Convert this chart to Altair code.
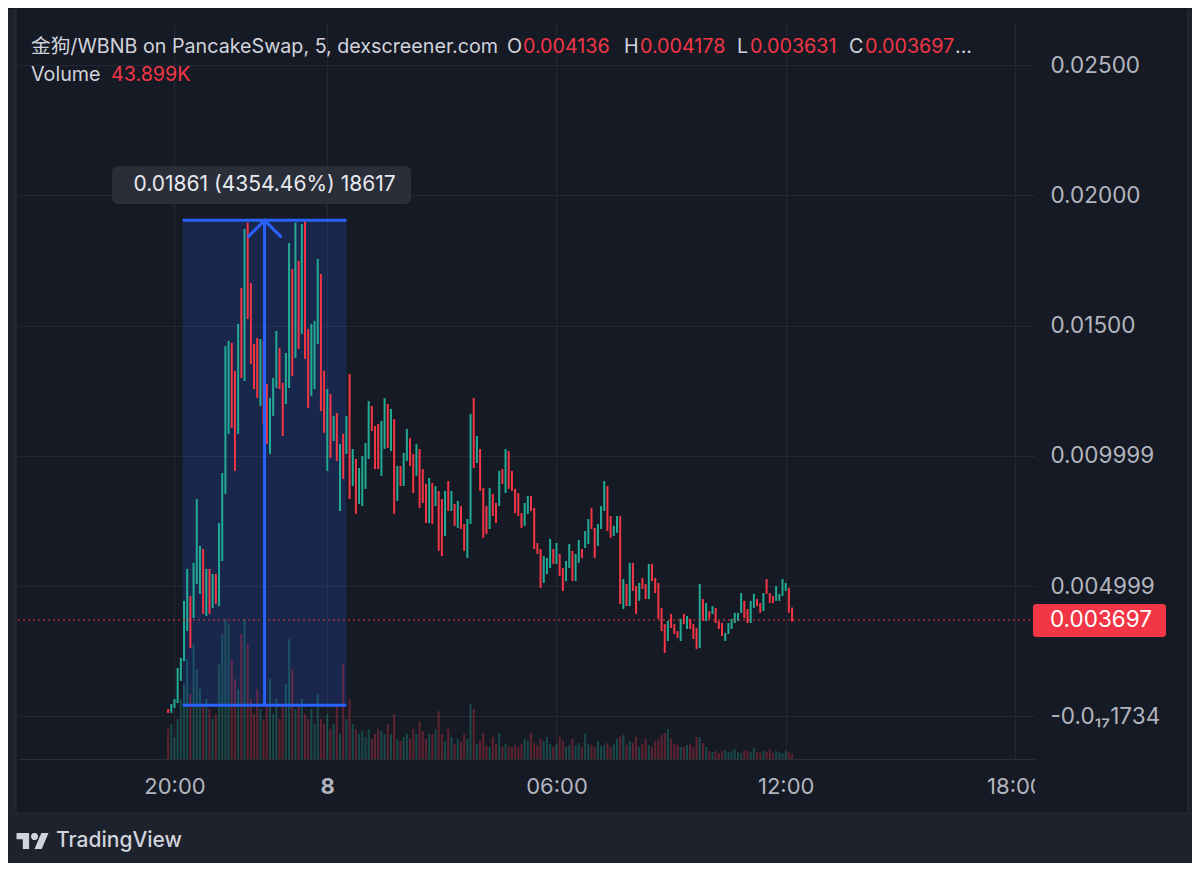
import math
import altair as alt
import pandas as pd

# ---------------- data ----------------
candle_highs = [
    0.00028, 0.00047, 0.00066, 0.00185, 0.00224, 0.00443, 0.00566, 0.00462, 0.00589, 0.00834,
    0.00654, 0.00642, 0.00566, 0.00566, 0.00546, 0.00546, 0.00742, 0.00934, 0.01422, 0.01441,
    0.01433, 0.01326, 0.01506, 0.01644, 0.01871, 0.01895, 0.01663, 0.01429, 0.01452, 0.01448,
    0.01441, 0.01276, 0.01222, 0.01299, 0.01479, 0.01414, 0.01280, 0.01395, 0.01817, 0.01717,
    0.01895, 0.01748, 0.01890, 0.01904, 0.01487, 0.01506, 0.01518, 0.01756, 0.01698, 0.01326,
    0.01256, 0.01237, 0.01153, 0.01164, 0.01045, 0.01084, 0.01153, 0.01314, 0.01026, 0.00988,
    0.00953, 0.00999, 0.01049, 0.01210, 0.01191, 0.01114, 0.01122, 0.01134, 0.01222, 0.01199,
    0.01180, 0.01141, 0.00961, 0.00961, 0.01011, 0.01103, 0.01068, 0.01007, 0.01045, 0.01026,
    0.00949, 0.00892, 0.00915, 0.00896, 0.00884, 0.00865, 0.00834, 0.00865, 0.00903, 0.00865,
    0.00815, 0.00827, 0.00807, 0.00738, 0.00757, 0.01161, 0.01222, 0.01076, 0.01026, 0.00876,
    0.00807, 0.00876, 0.00853, 0.00819, 0.00942, 0.00949, 0.01026, 0.01018, 0.00942, 0.00873,
    0.00857, 0.00780, 0.00819, 0.00846, 0.00846, 0.00800, 0.00665, 0.00642, 0.00615, 0.00608,
    0.00681, 0.00642, 0.00665, 0.00623, 0.00569, 0.00596, 0.00661, 0.00635, 0.00623, 0.00677,
    0.00642, 0.00711, 0.00757, 0.00800, 0.00723, 0.00738, 0.00807, 0.00903, 0.00884, 0.00769,
    0.00731, 0.00769, 0.00769, 0.00527, 0.00508, 0.00589, 0.00589, 0.00500, 0.00512, 0.00531,
    0.00508, 0.00585, 0.00585, 0.00531, 0.00512, 0.00416, 0.00354, 0.00366, 0.00393, 0.00354,
    0.00327, 0.00374, 0.00393, 0.00385, 0.00374, 0.00354, 0.00339, 0.00508, 0.00450, 0.00435,
    0.00404, 0.00423, 0.00416, 0.00366, 0.00358, 0.00320, 0.00358, 0.00374, 0.00397, 0.00397,
    0.00473, 0.00443, 0.00412, 0.00443, 0.00470, 0.00450, 0.00435, 0.00473, 0.00527, 0.00473,
    0.00462, 0.00500, 0.00470, 0.00527, 0.00512, 0.00493, 0.004178,
]
candle_lows = [
    0.00013, 0.00013, 0.00032, 0.00051, 0.00136, 0.00212, 0.00327, 0.00262, 0.00377, 0.00508,
    0.00470, 0.00393, 0.00385, 0.00393, 0.00416, 0.00431, 0.00423, 0.00596, 0.00853, 0.01084,
    0.01107, 0.00942, 0.01084, 0.01299, 0.01287, 0.01525, 0.01352, 0.01256, 0.01222, 0.01191,
    0.01122, 0.01045, 0.01007, 0.01153, 0.01260, 0.01256, 0.01076, 0.01199, 0.01260, 0.01306,
    0.01376, 0.01410, 0.01468, 0.01372, 0.01184, 0.01230, 0.01256, 0.01429, 0.01172, 0.01088,
    0.00942, 0.00992, 0.01057, 0.00980, 0.00788, 0.00911, 0.01007, 0.00834, 0.00884, 0.00777,
    0.00815, 0.00807, 0.00873, 0.00988, 0.01095, 0.00949, 0.00949, 0.00923, 0.01026, 0.01030,
    0.01018, 0.00777, 0.00827, 0.00884, 0.00884, 0.00980, 0.00961, 0.00857, 0.00923, 0.00800,
    0.00819, 0.00742, 0.00742, 0.00738, 0.00807, 0.00635, 0.00615, 0.00692, 0.00788, 0.00788,
    0.00731, 0.00723, 0.00719, 0.00635, 0.00608, 0.00738, 0.00953, 0.00972, 0.00865, 0.00685,
    0.00700, 0.00719, 0.00769, 0.00742, 0.00807, 0.00892, 0.00857, 0.00873, 0.00865, 0.00780,
    0.00769, 0.00723, 0.00731, 0.00777, 0.00788, 0.00642, 0.00623, 0.00493, 0.00512, 0.00546,
    0.00569, 0.00585, 0.00585, 0.00539, 0.00481, 0.00519, 0.00569, 0.00519, 0.00519, 0.00589,
    0.00608, 0.00646, 0.00661, 0.00719, 0.00608, 0.00654, 0.00719, 0.00788, 0.00711, 0.00685,
    0.00692, 0.00704, 0.00431, 0.00412, 0.00423, 0.00423, 0.00481, 0.00393, 0.00443, 0.00489,
    0.00450, 0.00450, 0.00519, 0.00473, 0.00374, 0.00327, 0.00243, 0.00289, 0.00339, 0.00316,
    0.00301, 0.00289, 0.00354, 0.00335, 0.00335, 0.00297, 0.00258, 0.00262, 0.00366, 0.00366,
    0.00374, 0.00393, 0.00358, 0.00335, 0.00308, 0.00289, 0.00316, 0.00335, 0.00358, 0.00366,
    0.00397, 0.00377, 0.00358, 0.00358, 0.00416, 0.00423, 0.00397, 0.00404, 0.00470, 0.00435,
    0.00435, 0.00443, 0.00443, 0.00462, 0.00481, 0.00397, 0.003631,
]
# u = rising candle, d = falling candle
candle_sides = list((
    "duuuu uuduu ududu duuuu ddudu ddddu dduuu dduud ududd uuudd "
    "ududu dudud uuuud dduud ududu uddud ddudu ddudu duddu ududd "
    "duddu duddd dduud ddduu ududd uuduu duudd uuudd uudud uddud "
    "duddd ddudd dudud ddudu duddd uuuuu udduu ddudd duuuu dd"
).replace(" ", ""))
candle_volumes_k = [
    264, 308, 194, 352, 528, 660, 880, 572, 1012, 792,
    616, 484, 528, 440, 352, 396, 836, 1100, 1232, 1188,
    880, 704, 616, 1100, 1232, 1012, 528, 396, 616, 440,
    352, 484, 704, 396, 528, 352, 484, 660, 1056, 792,
    440, 484, 528, 396, 352, 440, 308, 572, 352, 308,
    396, 264, 308, 484, 220, 836, 352, 528, 308, 264,
    220, 246, 194, 264, 176, 220, 264, 246, 220, 308,
    220, 396, 176, 158, 194, 220, 176, 264, 220, 334,
    246, 176, 220, 220, 264, 422, 220, 158, 264, 194,
    132, 176, 158, 220, 176, 484, 440, 132, 158, 229,
    114, 106, 194, 132, 229, 106, 132, 114, 106, 123,
    106, 132, 176, 158, 229, 141, 123, 176, 158, 194,
    132, 106, 132, 194, 158, 106, 123, 176, 114, 141,
    106, 220, 132, 123, 106, 158, 114, 123, 141, 106,
    132, 176, 202, 211, 123, 158, 141, 194, 106, 132,
    176, 123, 106, 158, 176, 211, 229, 264, 176, 132,
    123, 106, 106, 123, 132, 106, 194, 194, 141, 106,
    70, 62, 70, 53, 70, 79, 62, 70, 88, 62,
    53, 79, 70, 62, 97, 62, 53, 70, 62, 88,
    53, 70, 62, 53, 70, 62, 43.899,
]
first_candle_minute = -10      # 19:50, minutes counted from 20:00
candle_minutes_step = 5        # 5-minute candles

time_ticks = [0, 240, 600, 960, 1320]
time_labels = ["20:00", "8", "06:00", "12:00", "18:00"]
price_ticks = [0.0, 0.005, 0.01, 0.015, 0.02, 0.025]
price_labels = ["-0.0\u2081\u20871734", "0.004999", "0.009999", "0.01500", "0.02000", "0.02500"]

last_price = 0.003697
last_price_text = "0.003697"
measure_start_min = 13
measure_end_min = 270
measure_low = 0.000427
measure_high = 0.019037
measure_text = "0.01861 (4354.46%) 18617"

title_text = "金狗/WBNB on PancakeSwap, 5, dexscreener.com"
ohlc_names = ["O", "H", "L", "C"]
ohlc_values = ["0.004136", "0.004178", "0.003631", "0.003697"]
volume_text = "43.899K"

n = len(candle_highs)
assert len(candle_lows) == n and len(candle_sides) == n and len(candle_volumes_k) == n

df = pd.DataFrame({
    "minute": [first_candle_minute + candle_minutes_step * i for i in range(n)],
    "high": candle_highs,
    "low": candle_lows,
    "side": candle_sides,
    "volume_k": candle_volumes_k,
})

# ---------------- style ----------------
FONT = "Inter, 'Noto Sans CJK SC', 'DejaVu Sans', sans-serif"
BG = "#161a25"
OUTER = "#1e222d"
GRID = "#242834"
BORDER = "#2a2e39"
TEXT = "#b2b5be"
TITLE = "#d1d4dc"
GREEN = "#22ab94"
RED = "#f23645"
BLUE = "#2962ff"
W, H = 1017, 738

xscale = alt.Scale(domain=[-237.9, 1343.7], nice=False, zero=False)
yscale = alt.Scale(domain=[-0.001639, 0.02669], nice=False, zero=False)
side_scale = alt.Scale(domain=["u", "d"], range=[GREEN, RED])

def expr_map(ticks, labels):
    parts = []
    for t, l in zip(ticks, labels):
        parts.append(f"abs(datum.value - {t}) < 1e-9 ? '{l}' : ")
    return "".join(parts) + "''"

x_axis = alt.Axis(
    values=time_ticks, labelExpr=expr_map(time_ticks, time_labels), title=None,
    grid=True, gridColor=GRID, gridWidth=1, ticks=False, domain=True, domainColor=BORDER,
    labelColor=TEXT, labelFont=FONT, labelFontSize=22, labelPadding=17,
    labelFlush=False, labelOverlap=False,
    labelFontWeight={"condition": {"test": "datum.value == 240", "value": "bold"}, "value": "normal"},
)
y_axis = alt.Axis(
    orient="right", values=price_ticks, labelExpr=expr_map(price_ticks, price_labels), title=None,
    grid=True, gridColor=GRID, gridWidth=1, ticks=False, domain=False,
    labelColor=TEXT, labelFont=FONT, labelFontSize=22.5, labelPadding=15,
    labelFlush=False, labelOverlap=False,
)

one = pd.DataFrame({"k": [0]})

def box(x1, x2, y1, y2, color, radius=0, opacity=1.0):
    return alt.Chart(one).mark_rect(color=color, cornerRadius=radius, opacity=opacity).encode(
        x=alt.value(x1), x2=alt.value(x2), y=alt.value(y1), y2=alt.value(y2))

def label(text, px, py, color, size=19.7, weight="normal", align="left"):
    return alt.Chart(one).mark_text(text=text, align=align, baseline="middle", fontSize=size,
                                    fontWeight=weight, color=color, font=FONT).encode(
        x=alt.value(px), y=alt.value(py))

def hline(x1, x2, y, color):
    return alt.Chart(one).mark_rule(color=color, strokeWidth=1).encode(
        x=alt.value(x1), x2=alt.value(x2), y=alt.value(y))

def vline(x, y1, y2, color):
    return alt.Chart(one).mark_rule(color=color, strokeWidth=1).encode(
        x=alt.value(x), y=alt.value(y1), y2=alt.value(y2))

# frame outside the chart panel
frame = [
    box(-10, 1174, -12, -11, BG),
    box(-10, -2, -12, 842, OUTER),
    box(-10, 1174, 792, 842, OUTER),
    box(1170, 1174, -12, 842, OUTER),
    vline(-2, -12, 792, BORDER),
    hline(-2, 1170, 792, BORDER),
    vline(1170, -12, 792, BORDER),
]

X = lambda f: alt.X(f, scale=xscale)

mdf = pd.DataFrame({
    "start": [measure_start_min], "end": [measure_end_min],
    "low": [measure_low], "high": [measure_high],
    "mid": [(measure_start_min + measure_end_min) / 2],
})
mbase = alt.Chart(mdf)
measure_fill = mbase.mark_rect(color=BLUE, opacity=0.18).encode(
    x=X("start:Q"), x2="end:Q",
    y=alt.Y("low:Q", scale=yscale, axis=None), y2="high:Q")

volume = alt.Chart(df).mark_bar(size=2, opacity=0.33).encode(
    x=X("minute:Q"),
    y=alt.Y("volume_k:Q", scale=alt.Scale(domain=[0, 6500], nice=False), axis=None),
    color=alt.Color("side:N", scale=side_scale, legend=None))

candles = alt.Chart(df).mark_bar(size=2).encode(
    x=alt.X("minute:Q", scale=xscale, axis=x_axis),
    y=alt.Y("low:Q", scale=yscale, axis=y_axis),
    y2="high:Q",
    color=alt.Color("side:N", scale=side_scale, legend=None))

pdf = pd.DataFrame({"price": [last_price]})
price_line = alt.Chart(pdf).mark_rule(color=RED, strokeDash=[2, 3], strokeWidth=1).encode(
    y=alt.Y("price:Q", scale=yscale, axis=None))

m_top = mbase.mark_rule(color=BLUE, strokeWidth=3).encode(
    x=X("start:Q"), x2="end:Q", y=alt.Y("high:Q", scale=yscale, axis=None))
m_bottom = mbase.mark_rule(color=BLUE, strokeWidth=3).encode(
    x=X("start:Q"), x2="end:Q", y=alt.Y("low:Q", scale=yscale, axis=None))
m_shaft = mbase.mark_rule(color=BLUE, strokeWidth=3).encode(
    x=X("mid:Q"), y=alt.Y("low:Q", scale=yscale, axis=None), y2="high:Q")
m_head = mbase.mark_point(shape="M -1 1 L 0 0 L 1 1", filled=False, size=1024, strokeWidth=3,
                          color=BLUE, opacity=1, strokeCap="round").encode(
    x=X("mid:Q"), y=alt.Y("high:Q", scale=yscale, axis=None))
m_box = box(94, 393, 145, 183, "#2a2e39", radius=6)
m_text = mbase.mark_text(text=measure_text, align="center", baseline="middle", fontSize=21,
                         color="#e8eaf0", font=FONT).encode(
    x=X("mid:Q"), y=alt.value(164))

price_box = box(1015, 1148, 583, 616, RED, radius=3)
price_text = alt.Chart(pdf).mark_text(text=last_price_text, align="left", baseline="middle",
                                      fontSize=22.5, color="#ffffff", font=FONT).encode(
    x=alt.value(1032), y=alt.Y("price:Q", scale=yscale, axis=None))

# clip of the last time label by the price scale
clip_cover = box(1017, 1169, 740, 791, BG)

# header legend
header = [label(title_text, 13, 26, TITLE)]
name_x = [489, 606, 719, 831]
value_x = [505, 622, 732, 847]
for nm, val, nx, vx in zip(ohlc_names, ohlc_values, name_x, value_x):
    header.append(label(nm, nx, 26, TITLE))
    header.append(label(val, vx, 26, RED))
header.append(label("...", 937, 26, TITLE))
header.append(label("Volume", 13, 54, TITLE))
header.append(label(volume_text, 93, 54, RED))

# TradingView logo (T block, dot and slanted bar)
def logo_path():
    s, cy = 17.75, 13.0
    def p(x, y):
        return f"{(x - s) / s:.3f} {(y - cy) / s:.3f}"
    def poly(pts):
        return "M " + " L ".join(p(x, y) for x, y in pts) + " Z"
    t_block = poly([(14, 22), (7, 22), (7, 11), (0, 11), (0, 4), (14, 4)])
    slant = poly([(28, 22), (20, 22), (27.5, 4), (35.5, 4)])
    dot = poly([(20 + 4 * math.cos(2 * math.pi * k / 20), 8 + 4 * math.sin(2 * math.pi * k / 20))
                for k in range(20)])
    return " ".join([t_block, slant, dot])

logo = alt.Chart(one).mark_point(shape=logo_path(), filled=True, size=1024, color=TITLE,
                                 opacity=1, strokeWidth=0).encode(
    x=alt.value(14.5), y=alt.value(820))
logo_text = label("TradingView", 38, 820, TITLE, size=21, weight=500)

layers = frame + [measure_fill, volume, candles, price_line, m_top, m_bottom, m_shaft, m_head,
                  m_box, m_text, price_box, price_text, clip_cover] + header + [logo, logo_text]

chart = alt.layer(*layers).resolve_scale(y="independent").properties(
    width=W, height=H, padding=0, background=BG
).configure_view(stroke=None).configure_axis(zindex=0)

chart.save("out.html", embed_options={"renderer": "svg", "actions": False})
